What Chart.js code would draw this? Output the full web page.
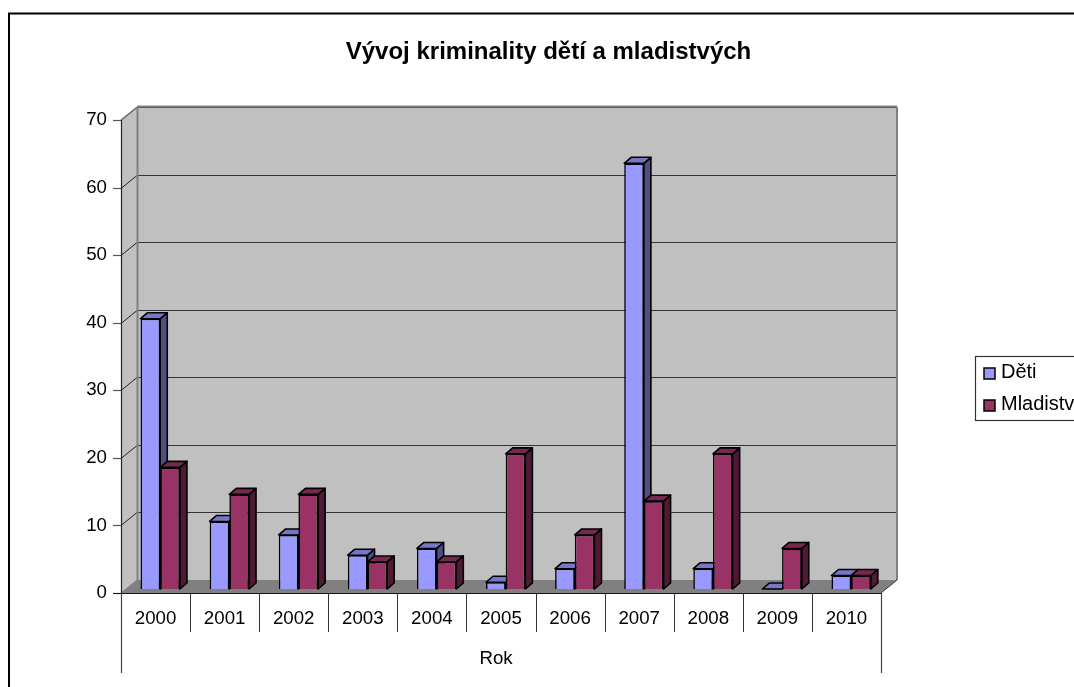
<!DOCTYPE html>
<html><head><meta charset="utf-8">
<style>html,body{margin:0;padding:0;background:#fff;overflow:hidden}canvas{display:block}</style>
<script src="https://cdn.jsdelivr.net/npm/chart.js@4/dist/chart.umd.js"></script>
</head><body>
<div style="position:relative;width:1074px;height:687px"><canvas id="c" width="1074" height="687"></canvas></div>
<script>
const chartTitle = "Vývoj kriminality dětí a mladistvých";
const axisTitle = "Rok";
const categories = ["2000","2001","2002","2003","2004","2005","2006","2007","2008","2009","2010"];
const deti = [40,10,8,5,6,1,3,63,3,0,2];
const mladistvi = [18,14,14,4,4,20,8,13,20,6,2];
const seriesNames = ["Děti","Mladiství"];
const yTicks = [0,10,20,30,40,50,60,70];
const FONT = '"Liberation Sans", Arial, sans-serif';
const DEPTH = {x:16,y:13};
const BAR = {dx:4.7,dy:-4,sx:7,sy:6};
const faces = {
  "#9999FF":{top:"#7777C6",side:"#4F4F84"},
  "#993366":{top:"#772850",side:"#4F1A35"}
};
function poly(ctx,pts,fill,stroke,lw){
  ctx.beginPath();pts.forEach((p,i)=>i?ctx.lineTo(p[0],p[1]):ctx.moveTo(p[0],p[1]));ctx.closePath();
  if(fill){ctx.fillStyle=fill;ctx.fill();}
  if(stroke){ctx.strokeStyle=stroke;ctx.lineWidth=lw||1;ctx.lineJoin="round";ctx.stroke();}
}
function line(ctx,x1,y1,x2,y2,c,lw){ctx.beginPath();ctx.moveTo(x1,y1);ctx.lineTo(x2,y2);ctx.strokeStyle=c;ctx.lineWidth=lw||1;ctx.stroke();}
const scene = {
  id:"scene",
  beforeDatasetsDraw(chart){
    const ctx=chart.ctx,a=chart.chartArea,y=chart.scales.y;
    const L=a.left,R=a.right,T=a.top,B=a.bottom,dx=DEPTH.x,dy=DEPTH.y;
    ctx.save();
    poly(ctx,[[L+dx,T-dy],[R+dx,T-dy],[R+dx,B-dy],[L+dx,B-dy]],"#C0C0C0");
    poly(ctx,[[L,T],[L+dx,T-dy],[L+dx,B-dy],[L,B]],"#C0C0C0");
    poly(ctx,[[L,B],[L+dx,B-dy],[R+dx,B-dy],[R,B]],"#808080");
    yTicks.forEach(v=>{
      const py=Math.round(y.getPixelForValue(v))+0.5;
      if(v>0){
        line(ctx,L+dx,py-dy,R+dx,py-dy,"#333",1.2);
        line(ctx,L,py,L+dx,py-dy,"#222",1);
      }
      line(ctx,L-8,py,L,py,"#555",1.2);
    });
    line(ctx,L+dx+.5,T-dy,L+dx+.5,B-dy,"#808080",2);
    line(ctx,L+dx,T-dy-.5,R+dx,T-dy-.5,"#808080",2);
    line(ctx,R+dx,T-dy,R+dx,B-dy,"#808080",2);
    line(ctx,L,T,L+dx,T-dy,"#808080",1.5);
    line(ctx,R,B,R+dx,B-dy,"#333",1);
    line(ctx,L,B,L+dx,B-dy,"#808080",1);
    line(ctx,L+.5,T,L+.5,B,"#222",1.2);
    const step=(R-L)/categories.length;
    line(ctx,L-8,B+.5,R,B+.5,"#111",1.2);
    line(ctx,L+.5,B,L+.5,673,"#444",1.2);
    line(ctx,R+.5,B,R+.5,673,"#444",1.2);
    categories.forEach((c,i)=>{ if(i>0){const px=Math.round(L+i*step)+.5;line(ctx,px,B,px,632,"#333",1);} });
    ctx.restore();
    ctx.save();
    ctx.translate(BAR.dx,BAR.dy);
    chart.data.datasets.forEach((ds,di)=>{
      const meta=chart.getDatasetMeta(di),f=faces[ds.backgroundColor];
      meta.data.forEach((el,i)=>{
        const p=el.getProps(["x","y","base","width"],true);
        const l=p.x-p.width/2,r=p.x+p.width/2,t=p.y,b=p.base;
        poly(ctx,[[r,t],[r+BAR.sx,t-BAR.sy],[r+BAR.sx,b-BAR.sy],[r,b]],f.side,"#000",1.6);
        poly(ctx,[[l,t],[l+BAR.sx,t-BAR.sy],[r+BAR.sx,t-BAR.sy],[r,t]],f.top,"#000",1.6);
      });
    });
  },
  afterDatasetsDraw(chart){ chart.ctx.restore(); },
  afterDraw(chart){
    const ctx=chart.ctx;
    ctx.save();
    ctx.textBaseline="middle";ctx.textAlign="center";ctx.fillStyle="#000";
    ctx.font="bold 24px "+FONT;
    ctx.fillText(chartTitle,548.5,52);
    ctx.font="18.7px "+FONT;
    ctx.fillText(axisTitle,496,658.5);
    ctx.textAlign="left";
    ctx.strokeStyle="#333";ctx.lineWidth=1.2;
    ctx.strokeRect(975.5,356.5,110,64);
    [["#9999FF",373],["#993366",405]].forEach((s,i)=>{
      ctx.fillStyle=s[0];ctx.fillRect(984,s[1]-5,11,11);
      ctx.strokeStyle="#000";ctx.lineWidth=1.5;ctx.strokeRect(984,s[1]-5,11,11);
      ctx.fillStyle="#000";ctx.font="20px "+FONT;
      ctx.fillText(seriesNames[i],1001,s[1]-1);
    });
    ctx.strokeStyle="#000";ctx.lineWidth=2;
    ctx.strokeRect(9,13.5,1100,700);
    ctx.restore();
  }
};
new Chart(document.getElementById("c"),{
  type:"bar",
  data:{labels:categories,datasets:[
    {label:seriesNames[0],data:deti,backgroundColor:"#9999FF",borderColor:"#000",borderWidth:1.6,categoryPercentage:0.57,barPercentage:1},
    {label:seriesNames[1],data:mladistvi,backgroundColor:"#993366",borderColor:"#000",borderWidth:1.6,categoryPercentage:0.57,barPercentage:1}
  ]},
  plugins:[scene],
  options:{
    responsive:false,animation:false,
    layout:{padding:{left:0,right:193,top:120,bottom:0}},
    plugins:{legend:{display:false},title:{display:false},tooltip:{enabled:false}},
    scales:{
      x:{grid:{display:false},border:{display:false},
         ticks:{color:"#000",font:{family:FONT,size:18.7},padding:7,maxRotation:0},
         afterFit(s){s.height=94;}},
      y:{min:0,max:70,grid:{display:false},border:{display:false},
         ticks:{color:"#000",font:{family:FONT,size:18.7},stepSize:10,padding:6},
         afterFit(s){s.width=121;}}
    }
  }
});
</script>
</body></html>
